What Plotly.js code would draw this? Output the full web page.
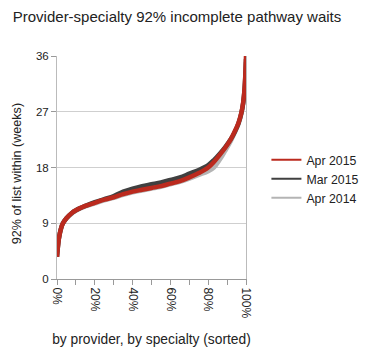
<!DOCTYPE html>
<html>
<head>
<meta charset="utf-8">
<script src="https://cdn.plot.ly/plotly-3.0.1.min.js"></script>
<style>html,body{margin:0;padding:0;background:#fff;}#chart{width:365px;height:356px;}</style>
</head>
<body>
<div id="chart"></div>
<script>
// Share of provider-specialties (sorted), as fraction
var xApr2015 = [0, 0.01, 0.02, 0.03, 0.05, 0.08, 0.10, 0.15, 0.20, 0.25, 0.30, 0.35, 0.40, 0.45, 0.50, 0.55, 0.60, 0.65, 0.70, 0.75, 0.80, 0.83, 0.86, 0.89, 0.92, 0.94, 0.96, 0.975, 0.985, 0.993, 1.0];
var yApr2015 = [3.6, 6.5, 8.0, 8.9, 9.8, 10.7, 11.1, 11.8, 12.3, 12.8, 13.2, 13.7, 14.1, 14.4, 14.7, 15.0, 15.4, 15.8, 16.4, 17.1, 18.0, 18.9, 20.0, 21.2, 22.6, 23.8, 25.2, 26.8, 28.5, 31.0, 36.0];

var xMar2015 = [0, 0.01, 0.02, 0.03, 0.05, 0.08, 0.10, 0.15, 0.20, 0.25, 0.30, 0.35, 0.40, 0.45, 0.50, 0.55, 0.60, 0.65, 0.70, 0.75, 0.80, 0.83, 0.86, 0.89, 0.92, 0.94, 0.96, 0.975, 0.985, 0.993, 1.0];
var yMar2015 = [3.6, 6.5, 8.0, 8.9, 9.8, 10.7, 11.1, 11.8, 12.4, 12.9, 13.4, 14.1, 14.6, 15.0, 15.3, 15.6, 16.0, 16.4, 17.0, 17.6, 18.4, 19.2, 20.2, 21.3, 22.6, 23.7, 25.1, 26.7, 28.4, 30.8, 35.5];

var xApr2014 = [0, 0.01, 0.02, 0.03, 0.05, 0.08, 0.10, 0.15, 0.20, 0.25, 0.30, 0.35, 0.40, 0.45, 0.50, 0.55, 0.60, 0.65, 0.70, 0.75, 0.80, 0.83, 0.86, 0.89, 0.92, 0.94, 0.96, 0.975, 0.985, 0.993, 1.0];
var yApr2014 = [3.8, 6.6, 8.0, 8.9, 9.8, 10.6, 11.0, 11.7, 12.2, 12.7, 13.1, 13.6, 14.0, 14.3, 14.6, 14.9, 15.3, 15.7, 16.2, 16.8, 17.4, 18.0, 19.2, 20.7, 22.3, 23.6, 25.0, 26.6, 28.3, 30.8, 35.0];

var seriesNames = ["Apr 2015", "Mar 2015", "Apr 2014"];
var seriesColors = ["#bb2a1e", "#404040", "#b4b4b4"];
var yTicks = [0, 9, 18, 27, 36];

var traces = [
  {x: xApr2014, y: yApr2014, name: seriesNames[2], mode: "lines", line: {color: seriesColors[2], width: 4.5, shape: "spline"}, showlegend: false},
  {x: xMar2015, y: yMar2015, name: seriesNames[1], mode: "lines", line: {color: seriesColors[1], width: 4.5, shape: "spline"}, showlegend: false},
  {x: xApr2015, y: yApr2015, name: seriesNames[0], mode: "lines", line: {color: seriesColors[0], width: 4.5, shape: "spline"}, showlegend: false}
];
// legend entries (thin lines as in the reference)
seriesNames.forEach(function (n, i) {
  traces.push({x: [null], y: [null], name: n, mode: "lines", line: {color: seriesColors[i], width: 2}, hoverinfo: "skip"});
});

var layout = {
  width: 365, height: 356,
  margin: {l: 57, r: 119, t: 56, b: 77, autoexpand: false},
  paper_bgcolor: "#fff", plot_bgcolor: "#fff",
  font: {family: "Liberation Sans, Arial, sans-serif", size: 11.5, color: "#222"},
  title: {text: "Provider-specialty 92% incomplete pathway waits", x: 0.035, xanchor: "left", y: 0.968, yanchor: "top", font: {size: 15, color: "#222"}},
  showlegend: true,
  legend: {x: 1.108, xanchor: "left", y: 0.6, yanchor: "top", font: {size: 12.3, color: "#222"}, tracegroupgap: 0, traceorder: "normal", bgcolor: "rgba(0,0,0,0)", itemwidth: 30},
  xaxis: {
    range: [0, 1], tickvals: [0, 0.2, 0.4, 0.6, 0.8, 1.0], tickformat: ".0%", tickangle: 90,
    ticks: "outside", ticklen: 5, tickcolor: "#999",
    minor: {tickvals: [0.1, 0.3, 0.5, 0.7, 0.9], ticks: "outside", ticklen: 5, tickcolor: "#999"},
    showline: true, linecolor: "#999", linewidth: 1, showgrid: false, zeroline: false,
    tickfont: {size: 12},
    title: {text: "by provider, by specialty (sorted)", font: {size: 13.8}, standoff: 16}
  },
  yaxis: {
    range: [0, 36], tickvals: yTicks, ticks: "outside", ticklen: 5, tickcolor: "#999",
    showline: true, mirror: true, linecolor: "#bbb", linewidth: 1,
    showgrid: true, gridcolor: "#cfcfcf", zeroline: false,
    tickfont: {size: 11.5}
  },
  annotations: [{
    text: "92% of list within (weeks)", textangle: -90, showarrow: false,
    xref: "paper", yref: "paper", x: -0.21, y: 0.471, xanchor: "center", yanchor: "middle",
    font: {size: 12.6, color: "#222"}
  }]
};

Plotly.newPlot("chart", traces, layout, {displayModeBar: false, staticPlot: true});
</script>
</body>
</html>
